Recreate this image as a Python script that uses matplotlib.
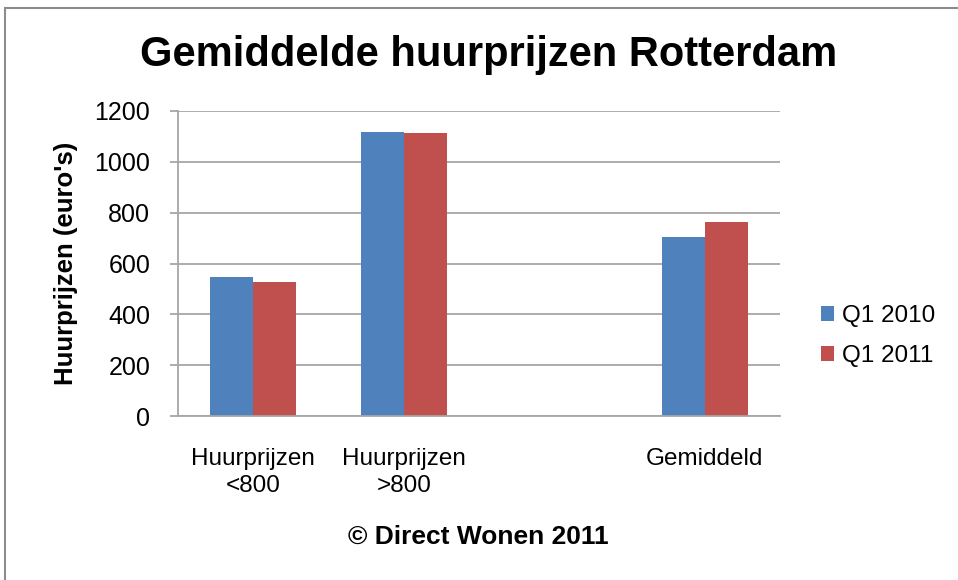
import numpy as np
import matplotlib
matplotlib.use("Agg")
import matplotlib.pyplot as plt
from matplotlib.patches import Rectangle

plt.rcParams['font.family'] = ['Liberation Sans', 'DejaVu Sans']

categories = ["Huurprijzen\n<800", "Huurprijzen\n>800", "", "Gemiddeld"]
q1_2010 = [546, 1117, np.nan, 706]
q1_2011 = [526, 1113, np.nan, 762]
series_names = ["Q1 2010", "Q1 2011"]
colors = ["#4F81BD", "#C0504D"]

fig = plt.figure(figsize=(9.58, 5.8), dpi=100)
# outer chart border
fig.patches.append(Rectangle((5/958, -0.05), 1.2, 1 - 8/580 + 0.05,
                             transform=fig.transFigure, fill=False,
                             edgecolor="#8c8c8c", linewidth=1.5))

ax = fig.add_axes([178/958, 1 - 416/580, 602/958, 305/580])
x = np.arange(len(categories))
w = 0.285
ax.bar(x - w/2, q1_2010, w, color=colors[0], label=series_names[0])
ax.bar(x + w/2, q1_2011, w, color=colors[1], label=series_names[1])

ax.set_xlim(-0.5, len(categories) - 0.5)
ax.set_ylim(0, 1200)
ax.set_yticks(np.arange(0, 1201, 200))
ax.yaxis.grid(True, color="#a6a6a6", linewidth=1.3)
ax.set_axisbelow(True)
for s in ["top", "right"]:
    ax.spines[s].set_visible(False)
for s in ["left", "bottom"]:
    ax.spines[s].set_color("#a6a6a6")
    ax.spines[s].set_linewidth(1.3)
ax.set_xticks(x)
ax.set_xticklabels(categories, fontsize=17.5, linespacing=1.3)
ax.tick_params(axis="x", length=0, pad=23)
ax.tick_params(axis="y", labelsize=18, length=6, color="#a6a6a6", width=1.3, pad=14)
ax.set_ylabel("Huurprijzen (euro's)", fontsize=18.5, fontweight="bold", labelpad=12)

fig.text(489/958, 1 - 55/580, "Gemiddelde huurprijzen Rotterdam", ha="center", va="center",
         fontsize=30, fontweight="bold")
fig.text(478/958, 1 - 537/580, "\u00a9 Direct Wonen 2011", ha="center", va="center",
         fontsize=19, fontweight="bold")

fig.legend(loc="center left", bbox_to_anchor=(799/958, 1 - 336/580), frameon=False,
           fontsize=17.5, handlelength=0.55, handleheight=0.55, handletextpad=0.3,
           labelspacing=0.75)

fig.savefig("out.png", dpi=100)
